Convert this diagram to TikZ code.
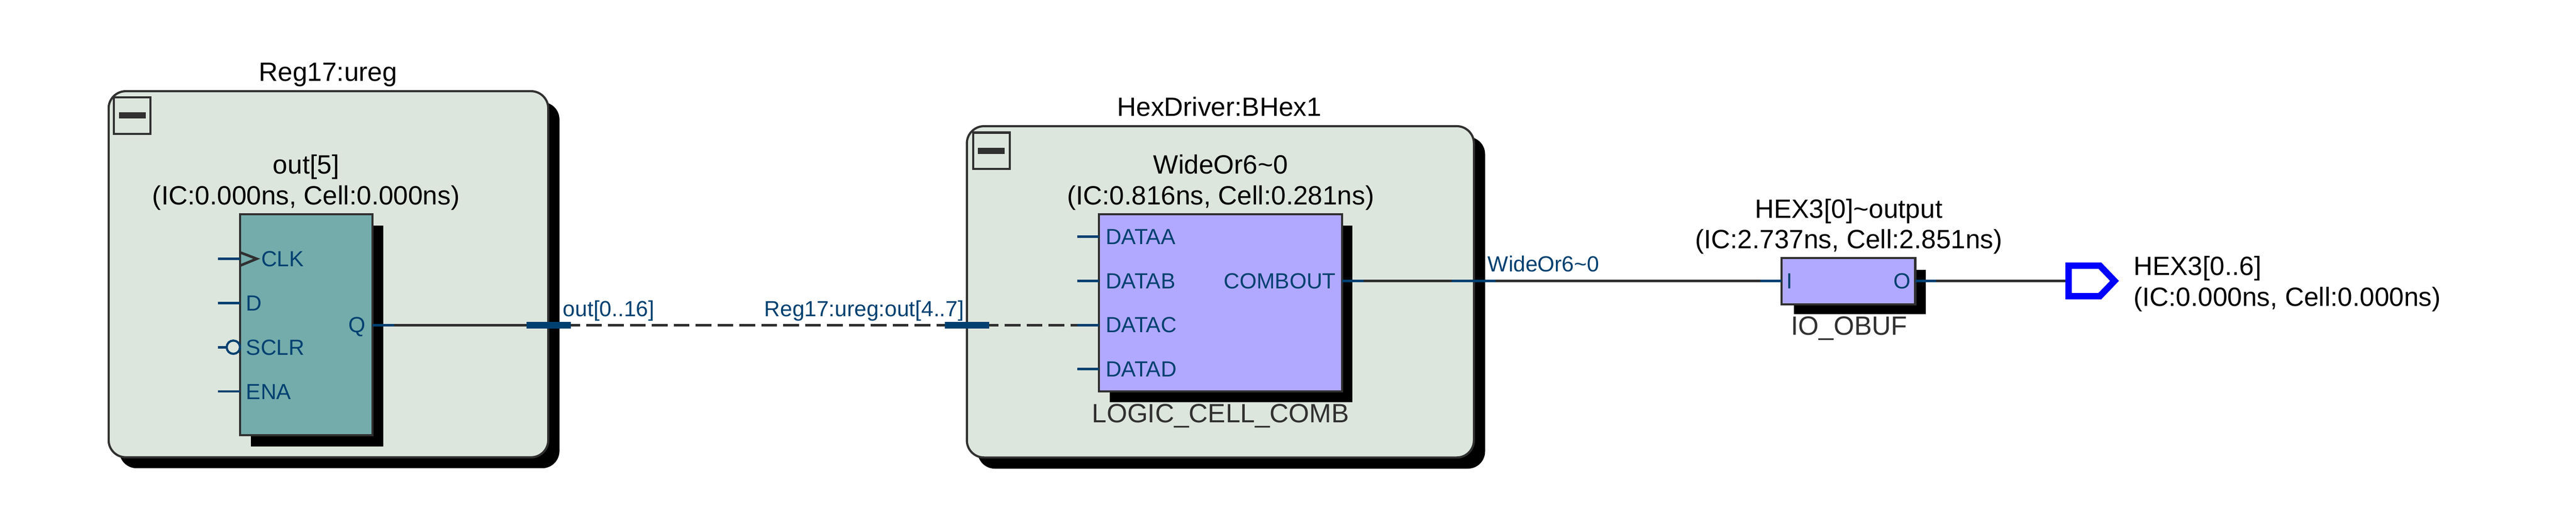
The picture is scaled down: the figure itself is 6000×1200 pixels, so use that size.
\documentclass[tikz,border=0pt]{standalone}
\usepackage{fontspec}
\setmainfont{Liberation Sans}

\definecolor{boxgreen}{RGB}{221,230,221}
\definecolor{cellteal}{RGB}{116,172,172}
\definecolor{celllilac}{RGB}{177,169,255}
\definecolor{pinblue}{RGB}{0,64,112}
\definecolor{edgegrey}{RGB}{48,48,48}

\tikzset{every picture/.style={line width=1.25pt}}
\tikzset{
	modbox/.style={draw=edgegrey,fill=boxgreen,rounded corners=10pt,inner sep=0pt,outer sep=0pt},
	regbox/.style={draw=edgegrey,fill=cellteal,inner sep=0pt,outer sep=0pt},
	lutbox/.style={draw=edgegrey,fill=celllilac,inner sep=0pt,outer sep=0pt},
	minusbox/.style={draw=edgegrey,fill=boxgreen,inner sep=0pt,outer sep=0pt,minimum width=21.25pt,minimum height=21.25pt},
	minusbar/.style={fill=edgegrey,inner sep=0pt,outer sep=0pt,minimum width=15.5pt,minimum height=3.75pt},
	bustag/.style={fill=pinblue,inner sep=0pt,outer sep=0pt,minimum width=25.75pt,minimum height=4pt},
	wiretag/.style={fill=pinblue,inner sep=0pt,outer sep=0pt,minimum width=25.5pt,minimum height=1.4pt},
	wire/.style={draw=edgegrey,line width=1.4pt},
	buswire/.style={draw=edgegrey,line width=1.5pt,dash pattern=on 9.25pt off 3.5pt,dash phase=3.75pt},
	stub/.style={draw=pinblue,line width=1.4pt},
	titletxt/.style={font=\fontsize{15.4}{18}\selectfont,text=black,inner sep=0pt,anchor=base},
	typetxt/.style={font=\fontsize{15.4}{18}\selectfont,text=edgegrey,inner sep=0pt,anchor=base},
	pintxt/.style={font=\fontsize{12.75}{15}\selectfont,text=pinblue,inner sep=0pt},
}

\begin{document}
\begin{tikzpicture}[x=0.25pt,y=0.25pt,yscale=-1,xscale=1]
	\useasboundingbox (0,0) rectangle (6000,1200);

	%Shape: shadows
	\fill [black,rounded corners=10pt] (278,238) rectangle (1303,1091);
	\fill [black,rounded corners=10pt] (2277,319) rectangle (3459,1092);

	%Shape: module boxes
	\draw (765,639) node [modbox,minimum width=256pt,minimum height=213.25pt] (ureg) {};
	\draw (2842.5,680) node [modbox,minimum width=295.25pt,minimum height=193pt] (bhex) {};

	%Shape: collapse buttons
	\draw (307.5,269.5) node [minusbox] (uregbtn) {};
	\draw (308,269) node [minusbar] (uregbar) {};
	\draw (2309.5,351.5) node [minusbox] (bhexbtn) {};
	\draw (2309,351.5) node [minusbar] (bhexbar) {};

	%Shape: cell shadows
	\fill [black] (584,525) rectangle (893,1040);
	\fill [black] (2585,525) rectangle (3150,937);
	\fill [black] (4178,629) rectangle (4485,732);

	%Shape: cells
	\draw (713.5,756.5) node [regbox,minimum width=77.25pt,minimum height=128.75pt] (regcell) {};
	\draw (2843,705.5) node [lutbox,minimum width=141.5pt,minimum height=103.25pt] (lutcell) {};
	\draw (4305.5,655) node [lutbox,minimum width=77.75pt,minimum height=27pt] (obufcell) {};

	%Coordinates of the pins
	\coordinate (regclk) at (559,603);
	\coordinate (regd) at (559,706);
	\coordinate (regsclr) at (559,809);
	\coordinate (regena) at (559,912);
	\coordinate (regq) at (868,757.5);
	\coordinate (lutdataa) at (2560,551.5);
	\coordinate (lutdatab) at (2560,654.5);
	\coordinate (lutdatac) at (2560,757.5);
	\coordinate (lutdatad) at (2560,860);
	\coordinate (lutcomb) at (3126,654.5);
	\coordinate (obufi) at (4150,654.5);
	\coordinate (obufo) at (4461,654.5);
	\coordinate (hexpin) at (4818,654.5);

	%Bus tags
	\draw (1277.5,757.5) node [bustag] (tagout) {};
	\draw (2252.5,757.5) node [bustag] (tagreg) {};
	\draw (3432,654.5) node [wiretag] (tagwide) {};

	%Straight Lines
	\draw [wire] (regq) -- (tagout) ;
	\draw [buswire] (tagout) -- (tagreg) ;
	\draw [buswire] (tagreg) -- (lutdatac) ;
	\draw [wire] (lutcomb) -- (tagwide) ;
	\draw [wire] (tagwide) -- (obufi) ;
	\draw [wire] (obufo) -- (hexpin) ;

	%Pin stubs
	\draw [stub] (regclk) -- ++(-51,0) ;
	\draw [stub] (regd) -- ++(-51,0) ;
	\draw [stub] (regsclr) -- ++(-51,0) ;
	\draw [stub] (regena) -- ++(-51,0) ;
	\draw [stub] (regq) -- ++(50,0) ;
	\draw [stub] (lutdataa) -- ++(-51,0) ;
	\draw [stub] (lutdatab) -- ++(-51,0) ;
	\draw [stub] (lutdatac) -- ++(-51,0) ;
	\draw [stub] (lutdatad) -- ++(-51,0) ;
	\draw [stub] (lutcomb) -- ++(50,0) ;
	\draw [stub] (obufi) -- ++(-50,0) ;
	\draw [stub] (obufo) -- ++(49,0) ;

	%Clock mark and inverter bubble
	\draw [draw=edgegrey,line width=1.5pt] (559,588) -- (598,603) -- (559,619) ;
	\draw [draw=pinblue,fill=boxgreen] (543.5,809) circle (15.5) ;

	%Shape: output pin
	\draw [draw=blue,line width=3.75pt,miter limit=4] (4818,619) -- (4891,619) -- (4925,654.5) -- (4891,690) -- (4818,690) -- cycle ;

	% Text Node
	\draw (764,189) node [titletxt] (uregname) {Reg17:ureg};
	% Text Node
	\draw (713,405) node [titletxt] (regname) {out[5]};
	% Text Node
	\draw (713,477) node [titletxt] (regtime) {(IC:0.000ns, Cell:0.000ns)};
	% Text Node
	\draw (2840,271) node [titletxt] (bhexname) {HexDriver:BHex1};
	% Text Node
	\draw (2843,405) node [titletxt] (lutname) {WideOr6\textasciitilde 0};
	% Text Node
	\draw (2843,477) node [titletxt] (luttime) {(IC:0.816ns, Cell:0.281ns)};
	% Text Node
	\draw (2843,985) node [typetxt] (luttype) {LOGIC\_CELL\_COMB};
	% Text Node
	\draw (4306,508) node [titletxt] (obufname) {HEX3[0]\textasciitilde output};
	% Text Node
	\draw (4306,579) node [titletxt] (obuftime) {(IC:2.737ns, Cell:2.851ns)};
	% Text Node
	\draw (4307,781) node [typetxt] (obuftype) {IO\_OBUF};
	% Text Node
	\draw (4967,641) node [titletxt,anchor=base west] (hexname) {HEX3[0..6]};
	% Text Node
	\draw (4967,713) node [titletxt,anchor=base west] (hextime) {(IC:0.000ns, Cell:0.000ns)};

	% Text Node
	\draw (606,621) node [pintxt,anchor=base west] (clktxt) {CLK};
	% Text Node
	\draw (571,724) node [pintxt,anchor=base west] (dtxt) {D};
	% Text Node
	\draw (571,827) node [pintxt,anchor=base west] (sclrtxt) {SCLR};
	% Text Node
	\draw (571,930) node [pintxt,anchor=base west] (enatxt) {ENA};
	% Text Node
	\draw (854,775) node [pintxt,anchor=base east] (qtxt) {Q};
	% Text Node
	\draw (2573,569) node [pintxt,anchor=base west] (datatxta) {DATAA};
	% Text Node
	\draw (2573,672) node [pintxt,anchor=base west] (datatxtb) {DATAB};
	% Text Node
	\draw (2573,775) node [pintxt,anchor=base west] (datatxtc) {DATAC};
	% Text Node
	\draw (2573,878) node [pintxt,anchor=base west] (datatxtd) {DATAD};
	% Text Node
	\draw (3114,672) node [pintxt,anchor=base east] (combtxt) {COMBOUT};
	% Text Node
	\draw (4168,673) node [pintxt,anchor=base] (itxt) {I};
	% Text Node
	\draw (4430,673) node [pintxt,anchor=base] (otxt) {O};
	% Text Node
	\draw (1309,737) node [pintxt,anchor=base west] (outtxt) {out[0..16]};
	% Text Node
	\draw (1778,737) node [pintxt,anchor=base west] (regouttxt) {Reg17:ureg:out[4..7]};
	% Text Node
	\draw (3463,633) node [pintxt,anchor=base west] (widetxt) {WideOr6\textasciitilde 0};

\end{tikzpicture}
\end{document}
